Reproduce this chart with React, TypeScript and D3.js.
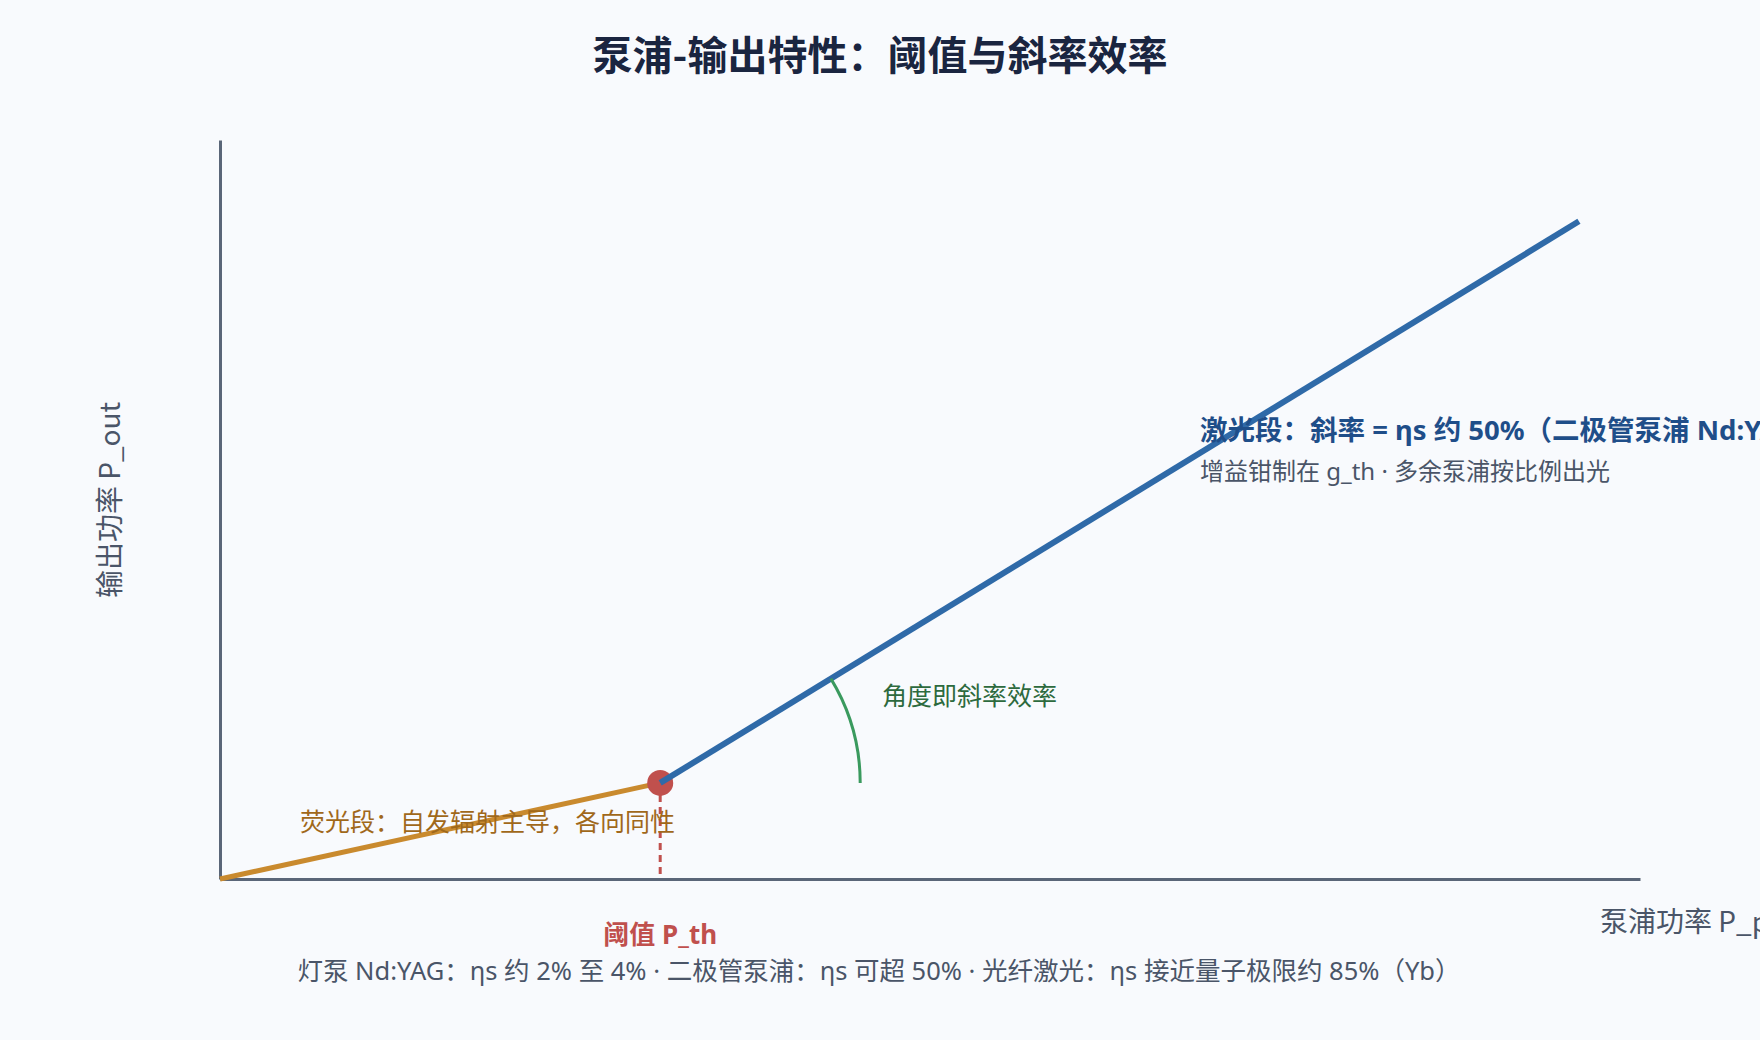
import React, { useEffect, useRef } from 'react';
import * as d3 from 'd3';

// pump power / output power, arbitrary units
const FLUOR_PUMP = [0, 3.1];
const FLUOR_OUT = [0, 1.3];
const LASER_PUMP = [3.1, 9.57];
const LASER_OUT = [1.3, 8.9];
const THRESHOLD = [3.1, 1.3];
const AXIS_DOMAIN = [0, 10];

const TITLE = '泵浦-输出特性：阈值与斜率效率';
const X_LABEL = '泵浦功率 P_pump';
const Y_LABEL = '输出功率 P_out';
const TH_LABEL = '阈值 P_th';
const FLUOR_NOTE = '荧光段：自发辐射主导，各向同性';
const LASER_NOTE = '激光段：斜率 = ηs 约 50%（二极管泵浦 Nd:YAG）';
const LASER_SUB = '增益钳制在 g_th · 多余泵浦按比例出光';
const ANGLE_NOTE = '角度即斜率效率';
const FOOT_NOTE = '灯泵 Nd:YAG：ηs 约 2% 至 4% · 二极管泵浦：ηs 可超 50% · 光纤激光：ηs 接近量子极限约 85%（Yb）';

const FONT = '"Noto Sans CJK SC", "Noto Sans", sans-serif';
// latin glyphs from Noto Sans, CJK falls back
const MIX_FONT = '"Noto Sans", "Noto Sans CJK SC", sans-serif';

const PumpOutputChart: React.FC = () => {
  const svgRef = useRef<SVGSVGElement>(null);

  useEffect(() => {
    if (!svgRef.current) return;
    const width = 1760;
    const height = 1040;
    const svg = d3.select(svgRef.current);
    svg.selectAll('*').remove();
    svg.style('font-family', FONT);

    svg.append('rect')
      .attr('width', width)
      .attr('height', height)
      .attr('fill', '#f8fafd');

    const x = d3.scaleLinear().domain(AXIS_DOMAIN).range([220, 1640]);
    const y = d3.scaleLinear().domain(AXIS_DOMAIN).range([879, 140]);

    // title
    svg.append('text')
      .attr('x', 880)
      .attr('y', 70)
      .attr('text-anchor', 'middle')
      .attr('font-size', 40)
      .attr('font-weight', 'bold')
      .attr('fill', '#1a2540')
      .text(TITLE);

    // axes, no ticks
    svg.append('g')
      .attr('transform', `translate(0,${y(0)})`)
      .call(d3.axisBottom(x).tickValues([]).tickSizeOuter(0))
      .select('.domain')
      .attr('stroke', '#5a6678')
      .attr('stroke-width', 3);

    svg.append('g')
      .attr('transform', `translate(${x(0)},0)`)
      .call(d3.axisLeft(y).tickValues([]).tickSizeOuter(0))
      .select('.domain')
      .attr('stroke', '#5a6678')
      .attr('stroke-width', 3);

    svg.append('text')
      .attr('x', 1600)
      .attr('y', 932)
      .attr('font-size', 28)
      .attr('fill', '#4a5568')
      .text(X_LABEL);

    svg.append('text')
      .attr('transform', 'translate(120,500) rotate(-90)')
      .attr('text-anchor', 'middle')
      .attr('font-size', 28)
      .attr('fill', '#4a5568')
      .text(Y_LABEL);

    const line = d3.line<[number, number]>()
      .x(d => x(d[0]))
      .y(d => y(d[1]));

    const fluor = FLUOR_PUMP.map((p, i) => [p, FLUOR_OUT[i]] as [number, number]);
    const laser = LASER_PUMP.map((p, i) => [p, LASER_OUT[i]] as [number, number]);

    // threshold drop line
    svg.append('line')
      .attr('x1', x(THRESHOLD[0]))
      .attr('x2', x(THRESHOLD[0]))
      .attr('y1', y(THRESHOLD[1]))
      .attr('y2', y(0))
      .attr('stroke', '#c0504d')
      .attr('stroke-width', 3)
      .attr('stroke-dasharray', '7,5');

    svg.append('path')
      .attr('d', line(fluor))
      .attr('fill', 'none')
      .attr('stroke', '#c98a2e')
      .attr('stroke-width', 5);

    svg.append('circle')
      .attr('cx', x(THRESHOLD[0]))
      .attr('cy', y(THRESHOLD[1]))
      .attr('r', 13)
      .attr('fill', '#c0504d');

    svg.append('path')
      .attr('d', line(laser))
      .attr('fill', 'none')
      .attr('stroke', '#2f6aa8')
      .attr('stroke-width', 6);

    // slope angle arc around the threshold point
    const cx = x(THRESHOLD[0]);
    const cy = y(THRESHOLD[1]);
    const ang = Math.atan2(y(LASER_OUT[1]) - cy, x(LASER_PUMP[1]) - cx);
    const r = 200;
    const arc = d3.path();
    arc.moveTo(cx + r * Math.cos(ang), cy + r * Math.sin(ang));
    arc.arc(cx, cy, r, ang, 0);
    svg.append('path')
      .attr('d', arc.toString())
      .attr('fill', 'none')
      .attr('stroke', '#3a9a5e')
      .attr('stroke-width', 3);

    svg.append('text')
      .attr('x', 882)
      .attr('y', 705)
      .attr('font-size', 25)
      .attr('fill', '#2d6a3e')
      .text(ANGLE_NOTE);

    svg.append('text')
      .attr('x', 300)
      .attr('y', 831)
      .attr('font-size', 25)
      .attr('fill', '#a0681a')
      .text(FLUOR_NOTE);

    svg.append('text')
      .attr('x', 1200)
      .attr('y', 440)
      .attr('font-size', 27.5)
      .attr('font-weight', 'bold')
      .attr('fill', '#1f4e89')
      .style('font-family', MIX_FONT)
      .text(LASER_NOTE);

    svg.append('text')
      .attr('x', 1200)
      .attr('y', 480)
      .attr('font-size', 24)
      .attr('fill', '#4a5568')
      .style('font-family', MIX_FONT)
      .text(LASER_SUB);

    svg.append('text')
      .attr('x', x(THRESHOLD[0]))
      .attr('y', 944)
      .attr('text-anchor', 'middle')
      .attr('font-size', 26)
      .attr('font-weight', 'bold')
      .attr('fill', '#c0504d')
      .style('font-family', MIX_FONT)
      .text(TH_LABEL);

    svg.append('text')
      .attr('x', 879)
      .attr('y', 980)
      .attr('text-anchor', 'middle')
      .attr('font-size', 25.5)
      .attr('fill', '#4a5568')
      .style('font-family', MIX_FONT)
      .text(FOOT_NOTE);
  }, []);

  return (
    <svg
      ref={svgRef}
      width={1760}
      height={1040}
      style={{ position: 'absolute', left: 0, top: 0 }}
    />
  );
};

export default function App() {
  return <PumpOutputChart />;
}
